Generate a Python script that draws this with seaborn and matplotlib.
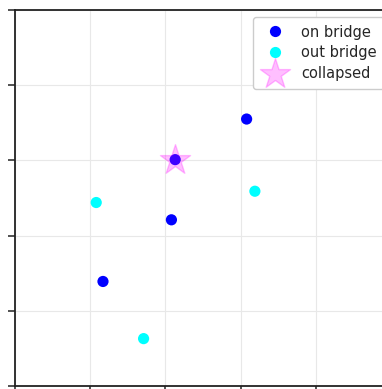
import pandas as pd
import matplotlib
matplotlib.use("Agg")
import matplotlib.pyplot as plt
import seaborn as sns

# point positions
on_x = [1.17, 2.08, 2.13, 3.08]
on_y = [1.39, 2.21, 3.01, 3.55]
out_x = [1.08, 1.71, 3.19]
out_y = [2.44, 0.63, 2.59]
collapsed_x = [2.13]
collapsed_y = [3.01]

df = pd.DataFrame({
    "x": on_x + out_x,
    "y": on_y + out_y,
    "state": ["on bridge"] * len(on_x) + ["out bridge"] * len(out_x),
})

sns.set_style("ticks")

fig = plt.figure(figsize=(3.82, 3.89), dpi=100)
ax = fig.add_axes([15 / 382, 3 / 389, 376 / 382, 376 / 389])

sns.scatterplot(data=df, x="x", y="y", hue="state",
                palette={"on bridge": "blue", "out bridge": "cyan"},
                s=65, edgecolor="none", ax=ax, zorder=3)
ax.scatter(collapsed_x, collapsed_y, marker="*", s=520, color="magenta",
           alpha=0.25, edgecolor="magenta", linewidth=1.0, zorder=4, label="collapsed")

ax.set_xlim(0, 5)
ax.set_ylim(0, 5)
ax.set_xticks(range(6))
ax.set_yticks(range(6))
ax.grid(True, color="#e8e8e8", linewidth=0.8)
ax.tick_params(labelleft=False, labelbottom=False, length=5, width=1.2, color="#333333")
for side in ["left", "top", "bottom", "right"]:
    ax.spines[side].set_visible(True)
    ax.spines[side].set_color("#222222")
    ax.spines[side].set_linewidth(1.3)
ax.set_xlabel("")
ax.set_ylabel("")

leg = ax.legend(loc="upper right", fontsize=10.5, framealpha=1, borderpad=0.5,
                handletextpad=0.8, labelspacing=0.4)
leg.get_frame().set_edgecolor("#cccccc")

fig.savefig("out.png", dpi=100)
